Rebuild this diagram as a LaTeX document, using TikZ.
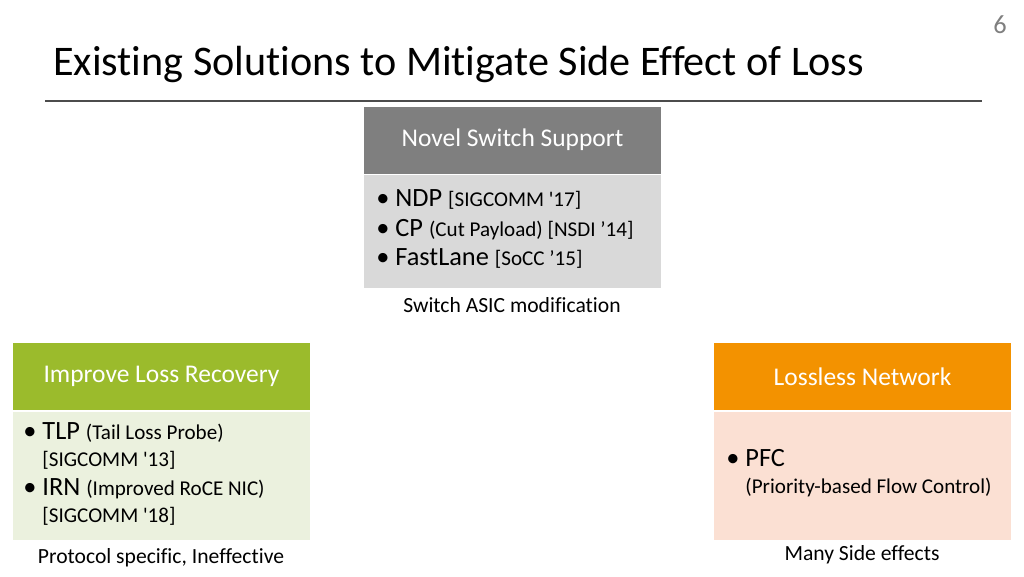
\documentclass[tikz,border=0pt]{standalone}
\usepackage{fontspec}
\setmainfont{Carlito}[RawFeature={-liga;-clig}]
\usetikzlibrary{positioning}
\definecolor{hdgray}{HTML}{7F7F7F}
\definecolor{bdgray}{HTML}{D9D9D9}
\definecolor{hdgreen}{HTML}{9BBB2C}
\definecolor{bdgreen}{HTML}{EBF1DE}
\definecolor{hdorange}{HTML}{F39200}
\definecolor{bdorange}{HTML}{FBE0D3}
\newcommand{\sm}[1]{{\fontsize{12}{14}\selectfont #1}}
\begin{document}
\begin{tikzpicture}[x=0.02cm,y=-0.02cm,
  head/.style={minimum width=5.94cm,minimum height=1.34cm,inner sep=0,text=white,font=\fontsize{14.5}{17}\selectfont},
  body/.style={minimum width=5.94cm,inner sep=0,font=\fontsize{15}{18}\selectfont},
  caption/.style={font=\fontsize{12.3}{15}\selectfont}]
  \useasboundingbox (0,0) rectangle (1024,576);
  % title
  \node[anchor=west,inner sep=0,font=\fontsize{24}{28}\selectfont] (title) at (53,64) {Existing Solutions to Mitigate Side Effect of Loss};
  \node[text=hdgray,font=\fontsize{15}{18}\selectfont] (page) at (1000,25) {6};
  \coordinate (l1) at (45,101);
  \coordinate (l2) at (982,101);
  \draw[black!70,line width=0.6pt] (l1) -- (l2);
  % switch support
  \node[head,fill=hdgray] (swh) at (512.5,140) {Novel Switch Support};
  \node[body,fill=bdgray,minimum height=2.26cm] (swb) at (512.5,231.5) {};
  \node[body,anchor=west,align=left,minimum width=0pt] (swt) at (376,229) {%
    \textbullet{} NDP \sm{[SIGCOMM \textquotesingle17]}\\[-1pt]
    \textbullet{} CP \sm{(Cut Payload) [NSDI ’14]}\\[-1pt]
    \textbullet{} FastLane \sm{[SoCC ’15]}};
  \node[caption] (swc) at (512,305) {Switch ASIC modification};
  % loss recovery
  \node[head,fill=hdgreen] (lrh) at (161.5,376.5) {Improve Loss Recovery};
  \node[body,fill=bdgreen,minimum height=2.56cm] (lrb) at (161.5,476) {};
  \node[body,anchor=west,align=left,minimum width=0pt] (lrt) at (23,474) {%
    \textbullet{} TLP \sm{(Tail Loss Probe)}\\[-3pt]
    \phantom{\textbullet{} }\sm{[SIGCOMM \textquotesingle13]}\\[-1pt]
    \textbullet{} IRN \sm{(Improved RoCE NIC)}\\[-3pt]
    \phantom{\textbullet{} }\sm{[SIGCOMM \textquotesingle18]}};
  \node[caption] (lrc) at (161,558) {Protocol specific, Ineffective};
  % lossless network
  \node[head,fill=hdorange] (lnh) at (862.5,376.5) {Lossless Network};
  \node[body,fill=bdorange,minimum height=2.56cm] (lnb) at (862.5,476) {};
  \node[body,anchor=west,align=left,minimum width=0pt] (lnt) at (726,473) {%
    \textbullet{} PFC\\[-3pt]
    \phantom{\textbullet{} }\sm{(Priority-based Flow Control)}};
  \node[caption] (lnc) at (862,555) {Many Side effects};
\end{tikzpicture}
\end{document}
